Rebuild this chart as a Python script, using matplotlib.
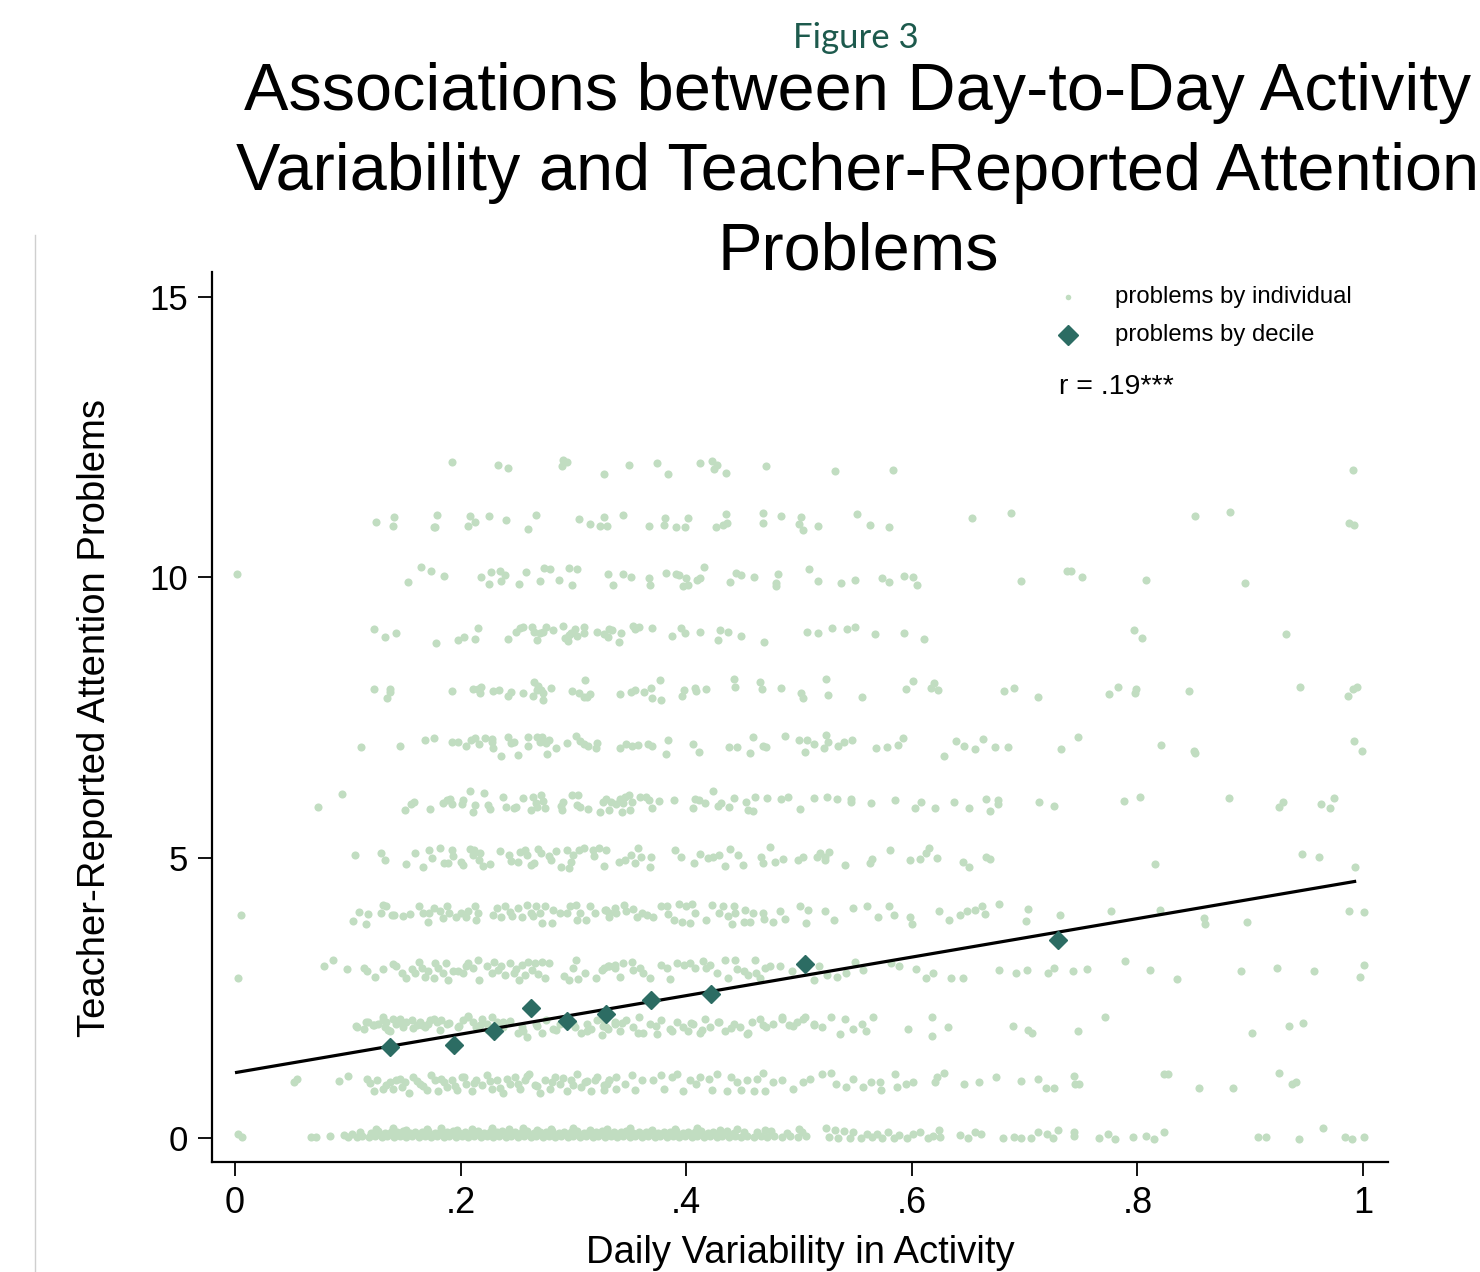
import matplotlib
matplotlib.use("Agg")
import matplotlib.pyplot as plt
from matplotlib.lines import Line2D

plt.rcParams['font.family'] = ['Liberation Sans', 'DejaVu Sans']

# ---------------- data ----------------
lvl12 = [(0.192,12.05),(0.233,12.00),(0.242,11.95),(0.290,11.98),(0.291,12.10),(0.294,12.05),(0.327,11.85),
         (0.349,12.01),(0.374,12.03),(0.384,11.85),(0.412,12.03),(0.423,12.08),(0.425,11.93),(0.427,12.01),
         (0.435,11.86),(0.471,11.98),(0.532,11.90),(0.583,11.92),(0.991,11.92)]

lvl11 = [(0.125,10.98),(0.141,11.07),(0.140,10.91),(0.179,11.11),(0.176,10.89),(0.177,10.89),(0.208,11.09),
         (0.207,10.92),(0.213,10.99),(0.225,11.09),(0.240,11.03),(0.267,11.12),(0.260,10.86),(0.305,11.04),
         (0.315,10.95),(0.327,11.08),(0.324,10.92),(0.330,10.92),(0.344,11.11),(0.367,10.91),(0.381,11.05),
         (0.380,10.94),(0.391,10.89),(0.399,10.89),(0.402,11.06),(0.426,10.90),(0.433,10.94),(0.436,10.97),
         (0.435,11.13),(0.468,11.15),(0.468,10.96),(0.484,11.09),(0.502,11.07),(0.500,10.95),(0.504,10.84),
         (0.517,10.91),(0.551,11.13),(0.563,10.94),(0.580,10.89),(0.653,11.05),(0.688,11.14),(0.851,11.09),
         (0.882,11.17),(0.988,10.96),(0.992,10.93)]

lvl10 = [(0.002,10.06),(0.153,9.92),(0.165,10.19),(0.174,10.12),(0.185,10.03),(0.218,10.00),(0.227,10.09),
         (0.235,10.12),(0.239,10.04),(0.225,9.88),(0.236,9.94),(0.252,9.88),(0.258,10.10),(0.274,10.17),
         (0.279,10.15),(0.270,9.94),(0.287,9.96),(0.296,10.17),(0.303,10.14),(0.299,9.86),(0.331,10.06),
         (0.335,9.87),(0.344,10.05),(0.351,10.00),(0.367,9.99),(0.368,9.86),(0.382,10.07),(0.391,10.06),
         (0.394,10.04),(0.400,9.99),(0.402,9.87),(0.397,9.85),(0.410,9.96),(0.412,9.99),(0.416,10.18),
         (0.439,9.92),(0.444,10.07),(0.449,10.04),(0.460,10.01),(0.481,10.05),(0.480,9.90),(0.480,9.85),
         (0.509,10.15),(0.517,9.94),(0.537,9.90),(0.550,9.95),(0.574,9.98),(0.580,9.92),(0.593,10.03),
         (0.601,10.00),(0.605,9.87),(0.697,9.94),(0.738,10.11),(0.741,10.11),(0.751,10.00),(0.808,9.96),
         (0.895,9.89)]

lvl9 = [(0.123,9.08),(0.133,8.94),(0.143,9.01),(0.178,8.82),(0.198,8.89),(0.203,8.93),(0.213,8.90),(0.215,9.10),
        (0.242,8.90),(0.249,9.02),(0.253,9.10),(0.255,9.11),(0.263,9.12),(0.265,9.02),(0.268,8.89),(0.270,9.00),
        (0.273,9.02),(0.276,9.12),(0.282,9.06),(0.291,9.14),(0.293,8.92),(0.295,8.86),(0.296,8.97),(0.298,9.00),
        (0.301,9.08),(0.303,8.96),(0.309,9.12),(0.309,9.00),(0.321,9.02),(0.327,8.98),(0.331,8.93),(0.332,9.07),
        (0.334,9.06),(0.340,8.85),(0.342,9.00),(0.353,9.14),(0.355,9.08),(0.358,9.12),(0.370,9.10),(0.387,8.95),
        (0.395,9.09),(0.399,9.00),(0.412,9.02),(0.428,8.89),(0.430,9.06),(0.437,9.02),(0.449,8.95),(0.469,8.84),
        (0.507,9.02),(0.517,9.00),(0.529,9.10),(0.543,9.08),(0.550,9.12),(0.567,8.98),(0.593,9.01),(0.611,8.90),
        (0.797,9.06),(0.804,8.91),(0.932,8.98)]

lvl8 = [(0.123,8.00),(0.137,8.01),(0.137,7.95),(0.135,7.84),(0.192,7.98),(0.211,8.00),(0.215,8.00),(0.218,8.04),
        (0.217,7.93),(0.229,7.97),(0.234,7.99),(0.242,7.88),(0.245,7.95),(0.255,7.93),(0.264,7.88),(0.265,8.13),
        (0.269,8.07),(0.268,7.99),(0.271,7.99),(0.273,7.93),(0.273,7.82),(0.280,8.02),(0.299,7.97),(0.305,7.93),
        (0.310,8.17),(0.309,7.87),(0.312,7.87),(0.315,7.92),(0.341,7.92),(0.351,7.95),(0.355,7.99),(0.363,7.95),
        (0.369,8.02),(0.370,7.85),(0.377,8.16),(0.378,7.82),(0.396,7.88),(0.398,7.99),(0.408,8.02),(0.409,7.98),
        (0.418,8.01),(0.442,8.18),(0.443,8.04),(0.465,8.13),(0.467,8.00),(0.484,8.03),(0.502,7.94),(0.504,7.85),
        (0.524,8.18),(0.526,7.90),(0.556,7.87),(0.595,8.01),(0.601,8.15),(0.617,8.02),(0.620,8.12),(0.623,7.99),
        (0.682,7.97),(0.691,8.02),(0.712,7.86),(0.775,7.92),(0.783,8.05),(0.799,8.01),(0.798,7.93),(0.846,7.98),
        (0.944,8.04),(0.991,8.01),(0.995,8.04),(0.987,7.89)]

lvl7 = [(0.112,6.97),(0.146,7.00),(0.168,7.09),(0.176,7.13),(0.192,7.06),(0.198,7.07),(0.205,6.99),(0.209,7.10),
        (0.213,7.13),(0.216,7.02),(0.222,7.13),(0.228,7.12),(0.228,7.07),(0.229,6.95),(0.242,7.15),(0.245,7.04),
        (0.247,7.07),(0.260,7.16),(0.260,6.99),(0.268,7.16),(0.272,7.15),(0.270,7.07),(0.276,7.04),(0.278,7.10),
        (0.285,6.95),(0.294,7.05),(0.302,7.17),(0.306,7.08),(0.309,7.02),(0.313,7.00),(0.321,7.05),(0.320,6.95),
        (0.341,6.96),(0.347,7.03),(0.352,7.00),(0.357,7.01),(0.366,7.03),(0.370,6.99),(0.384,7.09),(0.406,7.02),
        (0.438,6.98),(0.445,6.97),(0.459,7.15),(0.468,7.00),(0.471,6.98),(0.488,7.17),(0.500,7.10),(0.507,7.10),
        (0.513,7.03),(0.236,6.82),(0.251,6.83),(0.277,6.84),(0.382,6.84),(0.411,6.88),(0.457,6.87),(0.505,6.88),
        (0.524,7.18),(0.526,7.07),(0.522,6.95),(0.535,6.99),(0.540,7.06),(0.547,7.09),(0.568,6.95),(0.578,6.98),
        (0.588,7.01),(0.592,7.13),(0.639,7.08),(0.646,7.00),(0.656,6.93),(0.663,7.11),(0.674,6.97),(0.685,6.97),
        (0.732,6.94),(0.747,7.15),(0.821,7.01),(0.850,6.91),(0.992,7.08),(0.999,6.91),(0.629,6.82),(0.851,6.87)]

lvl6 = [(0.074,5.90),(0.095,6.13),(0.151,5.85),(0.156,5.96),(0.159,6.00),(0.173,5.86),(0.184,5.98),(0.188,6.02),
        (0.191,6.05),(0.192,5.96),(0.202,6.03),(0.201,5.96),(0.208,6.18),(0.211,5.81),(0.213,5.94),(0.221,6.15),
        (0.224,5.94),(0.226,5.86),(0.238,6.09),(0.240,5.91),(0.247,5.89),(0.249,5.91),(0.255,6.06),(0.262,5.85),
        (0.264,6.08),(0.267,5.97),(0.271,6.11),(0.268,5.91),(0.273,6.01),(0.275,5.88),(0.289,5.93),(0.291,6.00),
        (0.290,5.85),(0.299,6.12),(0.304,6.12),(0.303,5.94),(0.306,5.91),(0.313,5.87),(0.324,5.82),(0.326,6.00),
        (0.329,6.04),(0.332,5.85),(0.333,6.00),(0.338,5.96),(0.341,6.04),(0.343,5.82),(0.344,5.98),(0.346,6.08),
        (0.349,6.11),(0.350,5.85),(0.352,6.00),(0.359,6.09),(0.364,6.08),(0.367,6.02),(0.370,5.88),(0.376,6.01),
        (0.389,6.03),(0.408,6.04),(0.406,5.89),(0.411,6.02),(0.417,5.97),(0.424,6.18),(0.428,5.93),(0.431,5.97),
        (0.438,5.91),(0.442,6.06),(0.453,5.99),(0.455,5.85),(0.459,5.84),(0.461,6.08),(0.472,6.06),(0.484,6.04),
        (0.490,6.08),(0.501,5.86),(0.513,6.06),
        (0.525,6.09),(0.534,6.04),(0.546,6.05),(0.546,6.00),(0.564,5.98),(0.585,6.03),(0.603,5.89),(0.608,6.00),
        (0.621,5.89),(0.637,6.00),(0.651,5.89),(0.666,6.05),(0.669,5.84),(0.676,6.03),(0.676,5.96),(0.713,6.00),
        (0.726,5.92),(0.788,6.01),(0.802,6.09),(0.881,6.06),(0.926,5.91),(0.929,5.99),(0.963,5.95),(0.971,5.89),
        (0.974,6.06)]

lvl5 = [(0.106,5.05),(0.129,5.09),(0.133,4.95),(0.152,4.88),(0.160,5.09),(0.167,4.84),(0.172,5.14),(0.175,4.99),
        (0.182,5.17),(0.185,4.90),(0.189,4.90),(0.192,5.14),(0.193,5.03),(0.200,4.93),(0.202,4.87),(0.208,5.15),
        (0.211,5.05),(0.212,5.14),(0.216,4.96),(0.217,5.08),(0.220,4.86),(0.226,4.88),(0.235,5.12),(0.243,5.05),
        (0.245,4.94),(0.251,4.93),(0.253,5.10),(0.257,5.14),(0.259,5.05),(0.262,4.87),(0.265,4.91),(0.269,5.16),
        (0.271,5.08),(0.278,5.03),(0.280,4.95),(0.285,5.12),(0.289,4.84),(0.294,5.14),(0.296,4.81),(0.298,4.93),
        (0.300,5.05),(0.305,5.13),(0.309,5.17),(0.317,5.14),(0.318,5.03),(0.323,5.17),(0.327,4.85),(0.329,5.14),
        (0.340,4.93),(0.346,4.96),(0.351,5.05),(0.355,4.90),(0.357,5.17),(0.360,5.02),(0.368,4.84),(0.369,5.01),
        (0.390,5.13),(0.395,5.01),(0.407,4.90),(0.412,5.06),(0.419,4.99),(0.424,5.02),(0.429,5.05),(0.434,4.86),
        (0.439,5.16),(0.446,5.05),(0.450,4.87),(0.466,5.02),(0.468,4.90),(0.474,5.19),(0.479,4.93),(0.486,4.97),
        (0.499,4.95),(0.504,5.02),(0.516,5.01),
        (0.519,5.08),(0.523,5.02),(0.527,5.10),(0.523,4.95),(0.541,4.87),(0.563,4.91),(0.565,4.98),(0.581,5.14),
        (0.598,4.96),(0.607,4.97),(0.613,5.09),(0.615,5.17),(0.622,4.99),(0.645,4.93),(0.651,4.83),(0.666,5.02),
        (0.669,4.97),(0.816,4.89),(0.946,5.07),(0.961,5.01),(0.993,4.84)]

lvl4 = [(0.005,3.98),(0.105,3.87),(0.110,4.03),(0.116,3.82),(0.118,3.99),(0.129,4.01),(0.131,4.16),(0.134,4.14),
        (0.139,3.97),(0.141,3.98),(0.149,3.96),(0.155,3.99),(0.163,4.13),(0.167,4.02),(0.171,3.86),(0.172,4.01),
        (0.176,4.11),(0.182,4.05),(0.184,3.92),(0.188,4.13),(0.190,4.01),(0.196,3.95),(0.200,4.01),(0.205,3.94),
        (0.207,4.05),(0.213,4.13),(0.214,3.89),(0.215,4.01),(0.229,3.98),(0.232,4.11),(0.236,3.94),(0.239,4.14),
        (0.244,4.03),(0.246,3.96),(0.251,4.10),(0.254,3.94),(0.259,4.15),(0.262,4.02),(0.264,3.96),(0.267,4.13),
        (0.270,4.01),(0.272,3.83),(0.275,4.13),(0.281,3.83),(0.282,4.07),(0.288,4.01),(0.294,4.02),(0.297,4.13),
        (0.302,4.16),(0.303,3.88),(0.306,4.01),(0.311,3.88),(0.315,4.13),(0.319,4.01),(0.329,4.07),(0.332,3.95),
        (0.338,4.01),
        (0.328,4.07),(0.332,4.01),(0.337,4.10),(0.345,4.16),(0.347,4.04),(0.353,4.08),(0.356,3.95),(0.361,4.02),
        (0.365,3.98),(0.371,3.94),(0.378,4.14),(0.383,4.14),(0.384,4.00),(0.389,3.88),(0.394,4.17),(0.396,3.86),
        (0.400,4.14),(0.403,3.83),(0.405,4.18),(0.408,4.02),(0.418,3.89),(0.423,4.16),(0.429,4.02),(0.433,4.14),
        (0.437,3.96),(0.441,3.82),(0.442,4.13),(0.443,4.01),(0.451,3.86),(0.452,4.07),(0.457,3.86),(0.459,4.02),
        (0.468,4.01),(0.469,3.90),(0.477,3.86),(0.483,4.04),(0.488,3.90),(0.501,4.13),(0.508,4.07),(0.506,3.84),
        (0.523,4.04),(0.531,3.88),(0.548,4.11),(0.560,4.13),(0.570,3.94),(0.580,4.14),(0.584,3.98),(0.598,3.95),
        (0.600,3.81),(0.624,4.04),(0.633,3.89),(0.643,3.98),(0.649,4.04),(0.656,4.07),(0.662,4.14),(0.665,3.99),
        (0.677,4.17),
        (0.703,4.08),(0.701,3.87),(0.731,3.97),(0.777,4.05),(0.820,4.07),(0.859,3.93),(0.860,3.82),(0.897,3.85),
        (0.988,4.05),(1.001,4.03)]

lvl3 = [(0.003,2.86),(0.079,3.07),(0.087,3.17),(0.099,3.01),(0.114,3.04),(0.117,2.97),(0.124,2.88),(0.131,3.02),
        (0.140,3.10),(0.143,3.07),(0.148,2.94),(0.152,2.85),(0.157,3.01),(0.160,2.94),(0.163,3.14),(0.166,3.03),
        (0.168,2.88),(0.171,2.97),(0.176,2.85),(0.177,3.12),(0.180,3.03),(0.184,2.94),(0.187,3.12),(0.189,2.82),
        (0.193,2.97),(0.198,2.97),(0.202,2.94),(0.205,3.06),(0.207,3.12),(0.211,3.03),(0.215,3.17),(0.216,2.82),
        (0.223,3.07),(0.228,2.94),(0.230,3.14),(0.233,3.00),(0.236,3.06),(0.239,2.91),(0.244,3.13),(0.247,2.94),
        (0.249,3.01),(0.252,2.82),(0.254,3.08),(0.257,2.91),(0.260,3.14),(0.263,3.00),(0.266,3.12),(0.269,2.92),
        (0.272,3.14),(0.275,2.85),(0.278,3.12),(0.292,2.89),(0.296,2.82),(0.300,3.04),(0.302,3.17),(0.304,2.83),
        (0.310,2.94),(0.320,2.85),(0.325,3.00),(0.331,3.07),(0.337,3.03),(0.341,2.88),
        (0.327,3.03),(0.332,3.07),(0.337,3.08),(0.344,3.12),(0.352,3.14),(0.353,3.00),(0.359,3.04),(0.362,2.94),
        (0.368,2.85),(0.378,3.08),(0.383,3.04),(0.386,2.83),(0.392,3.12),(0.398,3.08),(0.403,3.13),(0.408,3.03),
        (0.415,3.16),(0.418,3.03),(0.421,3.08),(0.427,2.94),(0.434,3.17),(0.437,2.85),(0.443,3.17),(0.445,3.01),
        (0.451,2.97),(0.455,2.91),(0.461,3.17),(0.462,2.95),(0.465,2.85),(0.470,3.03),(0.474,3.06),(0.483,3.07),
        (0.494,2.97),(0.513,2.82),(0.518,3.07),(0.525,2.91),(0.534,2.88),(0.542,2.94),(0.550,3.14),(0.557,2.99),
        (0.582,3.12),(0.589,3.06),(0.604,3.01),(0.613,2.86),(0.619,2.95),(0.635,2.86),(0.645,2.86),(0.677,2.99),
        (0.692,2.94),(0.702,3.00),(0.721,2.95),(0.726,3.03),(0.743,2.97),(0.755,3.01),(0.789,3.15),(0.811,3.00),
        (0.835,2.84),(0.892,2.97),(0.924,3.04),(0.957,2.97),(0.997,2.87),(1.001,3.09)]

lvl2 = [(0.108,1.98),(0.114,1.95),(0.118,2.06),(0.123,2.01),(0.127,2.04),(0.131,2.15),(0.133,1.98),(0.134,2.07),
        (0.137,1.90),(0.140,2.12),(0.143,2.03),(0.146,2.13),(0.149,1.98),(0.152,2.06),(0.157,2.10),(0.161,2.01),
        (0.164,2.07),(0.168,1.98),(0.171,2.04),(0.176,2.12),(0.179,2.06),(0.183,2.10),(0.188,2.03),(0.198,1.98),
        (0.202,2.10),(0.207,2.18),(0.211,2.07),(0.214,1.98),(0.219,2.13),(0.223,2.04),(0.228,2.15),(0.232,2.07),
        (0.238,1.98),(0.244,2.09),(0.251,1.87),(0.254,1.98),(0.259,1.81),(0.267,2.04),(0.272,1.87),(0.276,2.10),
        (0.282,1.95),(0.288,2.04),(0.296,2.13),(0.301,1.98),(0.307,1.87),(0.312,2.04),(0.316,1.95),(0.321,2.10),
        (0.325,1.84),(0.329,1.98),(0.337,2.07),
        (0.107,1.99),(0.116,2.06),(0.122,2.01),(0.131,2.10),(0.136,1.93),(0.146,2.07),(0.158,1.96),(0.166,2.01),
        (0.173,2.10),(0.182,1.93),(0.190,2.05),(0.199,1.99),(0.207,2.16),(0.217,2.01),(0.224,1.93),(0.238,2.07),
        (0.255,1.90),(0.268,1.99),(0.285,1.93),(0.300,2.05),(0.312,1.90),(0.326,1.99),(0.343,2.05),(0.357,1.87),
        (0.373,1.99),(0.387,1.90),(0.404,2.05),(0.414,1.93),(0.428,2.07),(0.440,1.96),(0.455,1.87),(0.468,2.01),
        (0.485,2.13),(0.495,1.99),(0.504,2.12),(0.513,2.01),
        (0.327,2.10),(0.331,1.95),(0.337,2.04),(0.341,1.90),(0.347,2.10),(0.353,1.98),(0.358,2.16),(0.362,1.87),
        (0.368,2.04),(0.374,1.86),(0.378,2.10),(0.386,1.94),(0.392,2.07),(0.397,1.98),(0.402,1.90),(0.406,2.04),
        (0.412,1.87),(0.417,2.13),(0.421,1.98),(0.429,2.07),(0.434,1.90),(0.442,2.04),(0.448,1.98),(0.454,1.86),
        (0.458,2.07),(0.465,2.13),(0.471,1.98),(0.477,2.04),(0.485,2.15),(0.491,2.01),(0.498,2.07),(0.505,2.16),
        (0.513,2.04),(0.520,1.98),(0.528,2.16),(0.536,1.86),(0.541,2.13),(0.548,1.95),(0.556,2.03),(0.559,1.90),
        (0.566,2.15),(0.597,1.95),(0.618,2.16),(0.618,1.82),(0.632,1.98),
        (0.690,2.00),(0.703,1.93),(0.707,1.87),(0.747,1.91),(0.771,2.15),(0.902,1.88),(0.934,1.99),(0.947,2.05)]

lvl1 = [(0.052,0.99),(0.055,1.06),(0.092,1.02),(0.100,1.10),(0.117,1.06),(0.123,0.84),(0.126,1.04),(0.131,0.87),
        (0.134,0.94),(0.140,0.88),(0.143,1.04),(0.148,0.91),(0.151,1.00),(0.154,0.80),(0.158,1.08),(0.164,0.97),
        (0.170,0.85),(0.174,1.12),(0.177,1.04),(0.180,0.83),(0.183,1.06),(0.188,0.91),(0.192,1.04),(0.197,0.85),
        (0.201,1.09),(0.205,0.96),(0.210,0.83),(0.214,1.04),(0.219,0.94),(0.223,1.12),(0.228,0.88),(0.232,1.04),
        (0.238,0.81),(0.244,0.97),(0.248,1.09),(0.253,0.87),(0.257,1.04),(0.261,1.14),(0.266,0.94),(0.270,0.80),
        (0.275,1.04),(0.279,0.88),(0.284,1.09),(0.288,0.96),(0.294,0.83),(0.298,1.04),(0.303,1.15),(0.307,0.91),
        (0.312,1.02),(0.316,0.83),(0.321,1.09),(0.327,0.94),(0.332,1.04),(0.338,0.88),
        (0.195,0.93),(0.203,1.08),(0.212,0.98),(0.226,1.01),(0.235,0.90),(0.241,1.05),(0.251,0.97),(0.259,1.10),
        (0.268,0.92),(0.281,1.00),(0.291,1.07),(0.300,0.95),(0.310,0.99),(0.319,1.03),(0.330,0.96),
        (0.120,0.98),(0.137,1.00),(0.146,1.06),(0.161,1.02),(0.167,0.92),(0.185,0.99),
        (0.327,0.85),(0.332,1.04),(0.338,1.09),(0.346,0.97),(0.352,1.12),(0.355,0.85),(0.361,1.04),(0.371,1.04),
        (0.378,1.12),(0.380,0.88),(0.387,1.08),(0.392,1.15),(0.397,0.83),(0.403,1.04),(0.409,0.97),(0.412,1.09),
        (0.420,1.06),(0.423,0.85),(0.427,1.15),(0.436,0.84),(0.440,1.09),(0.445,1.00),(0.449,0.85),(0.454,1.04),
        (0.460,0.83),(0.463,1.06),(0.470,0.83),(0.468,1.16),(0.477,1.00),(0.485,1.04),(0.495,0.88),(0.504,1.00),
        (0.510,1.06),(0.520,1.15),(0.528,1.16),(0.533,0.96),(0.542,0.91),(0.548,1.06),(0.557,0.91),(0.564,1.00),
        (0.573,0.85),(0.572,1.00),(0.585,1.14),(0.587,0.91),(0.595,0.97),(0.601,1.00),(0.621,1.00),(0.622,1.08),
        (0.629,1.16),(0.646,0.96),(0.660,1.00),(0.675,1.08),
        (0.697,1.01),(0.712,1.06),(0.719,0.90),(0.726,0.90),(0.744,1.11),(0.745,0.97),(0.748,0.97),(0.824,1.14),
        (0.827,1.14),(0.855,0.90),(0.885,0.89),(0.926,1.16),(0.937,0.97),(0.941,0.99)]

lvl0 = [(0.003,0.07),(0.006,0.01),(0.067,0.01),(0.072,0.01),(0.084,0.04),(0.097,0.05),(0.100,0.02),(0.104,0.08),
        # dense band, lower row
        (0.108,0.02),(0.113,0.04),(0.119,0.01),(0.124,0.03),(0.130,0.02),(0.135,0.04),(0.141,0.01),(0.146,0.03),
        (0.152,0.02),(0.157,0.04),(0.163,0.01),(0.168,0.03),(0.174,0.02),(0.179,0.04),(0.185,0.01),(0.190,0.03),
        (0.196,0.02),(0.201,0.04),(0.207,0.01),(0.212,0.03),(0.218,0.02),(0.223,0.04),(0.229,0.01),(0.234,0.03),
        (0.240,0.02),(0.245,0.04),(0.251,0.01),(0.256,0.03),(0.262,0.02),(0.267,0.04),(0.273,0.01),(0.278,0.03),
        (0.284,0.02),(0.289,0.04),(0.295,0.01),(0.300,0.03),(0.306,0.02),(0.311,0.04),(0.317,0.01),(0.322,0.03),
        (0.328,0.02),(0.333,0.04),(0.339,0.01),(0.344,0.03),(0.350,0.02),(0.355,0.04),(0.361,0.01),(0.366,0.03),
        (0.372,0.02),(0.377,0.04),(0.383,0.01),(0.388,0.03),(0.394,0.02),(0.399,0.04),(0.405,0.01),(0.410,0.03),
        (0.416,0.02),(0.421,0.04),(0.427,0.01),(0.432,0.03),(0.438,0.02),(0.443,0.04),(0.449,0.01),(0.454,0.03),
        (0.460,0.02),(0.466,0.04),(0.472,0.01),(0.478,0.03),(0.485,0.02),(0.492,0.04),(0.499,0.01),(0.506,0.03),
        # dense band, upper row
        (0.111,0.10),(0.121,0.09),(0.127,0.12),(0.133,0.09),(0.138,0.11),(0.144,0.10),(0.149,0.12),(0.155,0.09),
        (0.160,0.11),(0.166,0.10),(0.171,0.12),(0.177,0.09),(0.182,0.11),(0.188,0.10),(0.193,0.12),(0.199,0.09),
        (0.204,0.11),(0.210,0.10),(0.215,0.12),(0.221,0.09),(0.226,0.11),(0.232,0.10),(0.237,0.12),(0.243,0.09),
        (0.248,0.11),(0.254,0.10),(0.259,0.12),(0.265,0.09),(0.270,0.11),(0.276,0.10),(0.281,0.12),(0.287,0.09),
        (0.292,0.11),(0.298,0.10),(0.303,0.12),(0.309,0.09),(0.314,0.11),(0.320,0.10),(0.325,0.12),(0.331,0.09),
        (0.336,0.11),(0.342,0.10),(0.347,0.12),(0.353,0.09),(0.358,0.11),(0.364,0.10),(0.369,0.12),(0.375,0.09),
        (0.380,0.11),(0.386,0.10),(0.391,0.12),(0.397,0.09),(0.402,0.11),(0.408,0.10),(0.413,0.12),(0.419,0.09),
        (0.424,0.11),(0.430,0.10),(0.436,0.12),(0.442,0.09),(0.451,0.11),(0.463,0.10),(0.475,0.12),(0.489,0.09),
        (0.503,0.11),
        # scattered top of band
        (0.125,0.16),(0.140,0.17),(0.152,0.15),(0.170,0.16),(0.183,0.17),(0.197,0.15),(0.210,0.16),(0.228,0.17),
        (0.243,0.16),(0.255,0.18),(0.268,0.15),(0.280,0.16),(0.300,0.17),(0.315,0.15),(0.330,0.16),(0.350,0.17),
        (0.370,0.15),(0.390,0.16),(0.410,0.17),(0.430,0.15),(0.445,0.16),(0.470,0.15),(0.500,0.16),
        # right of the band
        (0.524,0.17),(0.527,0.02),(0.532,0.14),(0.535,0.00),(0.540,0.13),(0.545,0.00),(0.548,0.11),(0.555,0.00),
        (0.560,0.08),(0.565,0.02),(0.569,0.08),(0.574,0.00),(0.579,0.10),(0.584,0.00),(0.589,0.06),(0.596,0.00),
        (0.601,0.08),(0.607,0.11),(0.614,0.00),(0.619,0.04),(0.624,0.14),(0.625,0.01),(0.643,0.06),(0.650,0.00),
        (0.656,0.11),(0.661,0.08),(0.681,0.00),(0.691,0.02),(0.697,0.00),(0.706,0.00),(0.712,0.11),(0.720,0.08),
        (0.725,0.00),(0.730,0.14),(0.744,0.11),(0.744,0.04),(0.766,0.00),(0.774,0.08),(0.780,-0.01),(0.796,0.02),
        (0.808,0.04),(0.815,-0.01),(0.824,0.11),(0.907,0.02),(0.914,0.01),(0.943,-0.01),(0.965,0.17),(0.984,0.01),
        (0.990,-0.01),(1.001,0.01)]

individual = lvl0 + lvl1 + lvl2 + lvl3 + lvl4 + lvl5 + lvl6 + lvl7 + lvl8 + lvl9 + lvl10 + lvl11 + lvl12
ind_x = [p[0] for p in individual]
ind_y = [p[1] for p in individual]

decile_x = [0.137, 0.194, 0.230, 0.262, 0.294, 0.329, 0.369, 0.422, 0.505, 0.730]
decile_y = [1.62, 1.65, 1.91, 2.31, 2.09, 2.21, 2.46, 2.57, 3.10, 3.54]

fit_x = [0.0, 0.994]
fit_y = [1.165, 4.58]

xticks = [0, 0.2, 0.4, 0.6, 0.8, 1.0]
xticklabels = ["0", ".2", ".4", ".6", ".8", "1"]
yticks = [0, 5, 10, 15]
yticklabels = ["0", "5", "10", "15"]

title_lines = ["Associations between Day-to-Day Activity",
               "Variability and Teacher-Reported Attention",
               "Problems"]
supertitle = "Figure 3"
legend_labels = ["problems by individual", "problems by decile"]
note = "r = .19***"

# ---------------- styling ----------------
W, H = 1480, 1272
light_green = '#c1ddc1'
teal = '#2c6c63'

fig = plt.figure(figsize=(W / 100, H / 100), dpi=100)
ax = fig.add_axes([212 / W, 1 - 1162 / H, 1176 / W, 890 / H])
ax.set_xlim(-0.0204, 1.0222)
ax.set_ylim(-0.428, 15.445)

ax.scatter(ind_x, ind_y, s=34, c=light_green, linewidths=0, zorder=2)
ax.plot(fit_x, fit_y, color='black', lw=2.3, zorder=3, solid_capstyle='butt')
ax.plot(decile_x, decile_y, ls='none', marker='D', ms=9.5, color=teal, zorder=4)

for s in ['top', 'right']:
    ax.spines[s].set_visible(False)
for s in ['left', 'bottom']:
    ax.spines[s].set_linewidth(1.6)
    ax.spines[s].set_color('black')

ax.set_xticks(xticks)
ax.set_xticklabels(xticklabels)
ax.set_yticks(yticks)
ax.set_yticklabels(yticklabels)
ax.tick_params(axis='both', direction='out', length=10, width=1.3, colors='black')
ax.tick_params(axis='x', labelsize=26, pad=7)
ax.tick_params(axis='y', labelsize=25, pad=7)

# axis labels
fig.text(800 / W, 1 - 1263 / H, "Daily Variability in Activity", ha='center', va='baseline', fontsize=27.5)
fig.text(95 / W, 1 - 718 / H, "Teacher-Reported Attention Problems", ha='center', va='center',
         rotation=90, fontsize=27.5)

# titles
fig.text(856 / W, 1 - 48 / H, supertitle, ha='center', va='baseline', fontsize=25,
         color='#1d5a4d', family=['Lato', 'DejaVu Sans'])
for line, base in zip(title_lines, [110, 190, 270]):
    fig.text(858 / W, 1 - base / H, line, ha='center', va='baseline', fontsize=48)

# legend (manual)
ax.scatter([0.728], [0.9719], s=16, c=light_green, linewidths=0, transform=ax.transAxes, clip_on=False)
ax.plot([0.728], [0.9292], marker='D', ms=10, color=teal, transform=ax.transAxes, clip_on=False)
ax.text(0.768, 0.9719, legend_labels[0], transform=ax.transAxes, va='center', ha='left', fontsize=17.2)
ax.text(0.768, 0.9292, legend_labels[1], transform=ax.transAxes, va='center', ha='left', fontsize=17.2)
ax.text(0.7205, 0.8708, note, transform=ax.transAxes, va='center', ha='left', fontsize=20.5)

# thin grey frame line at left
fig.add_artist(Line2D([35 / W, 35 / W], [0, 1 - 235 / H], color='#cfcfcf', lw=1))

fig.savefig("out.png", dpi=100)
